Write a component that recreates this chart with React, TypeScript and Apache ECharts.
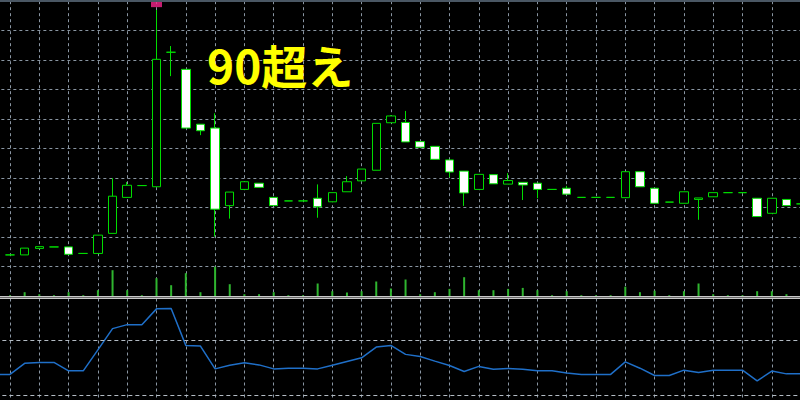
import React, { useEffect, useRef } from "react";
import * as echarts from "echarts";

// one category per bar (index labels; axis labels are hidden in the reference)
const categories = [
  "1", "2", "3", "4", "5", "6", "7", "8", "9", "10",
  "11", "12", "13", "14", "15", "16", "17", "18", "19", "20",
  "21", "22", "23", "24", "25", "26", "27", "28", "29", "30",
  "31", "32", "33", "34", "35", "36", "37", "38", "39", "40",
  "41", "42", "43", "44", "45", "46", "47", "48", "49", "50",
  "51", "52", "53", "54", "55", "56",
];

// [open, close, low, high]
const candles = [
  [413.5, 415.3, 413.5, 415.3],
  [414.0, 414.0, 414.0, 414.0],
  [414.0, 416.3, 414.0, 416.3],
  [416.2, 416.8, 416.2, 416.8],
  [416.7, 416.7, 416.7, 416.7],
  [416.7, 414.2, 414.2, 416.7],
  [414.5, 414.5, 414.5, 414.5],
  [414.5, 420.7, 414.5, 420.7],
  [421.3, 433.9, 421.3, 440.0],
  [433.5, 437.6, 433.5, 438.7],
  [437.5, 437.5, 437.5, 437.5],
  [437.1, 480.3, 437.1, 497.0],
  [482.7, 482.7, 474.6, 484.8],
  [476.9, 457.0, 457.0, 476.9],
  [458.3, 456.1, 454.6, 458.3],
  [457.0, 429.5, 420.2, 462.0],
  [430.7, 435.3, 426.3, 435.3],
  [436.2, 438.8, 436.2, 438.8],
  [438.3, 436.9, 436.9, 438.3],
  [433.5, 430.7, 430.7, 433.5],
  [432.3, 432.3, 432.3, 432.3],
  [432.3, 432.3, 432.3, 432.3],
  [433.2, 430.3, 426.6, 437.9],
  [432.0, 435.1, 432.0, 435.1],
  [435.4, 438.8, 435.4, 440.7],
  [439.1, 443.1, 439.1, 443.1],
  [442.7, 458.6, 442.7, 458.6],
  [458.8, 461.1, 458.8, 461.4],
  [458.9, 452.3, 452.3, 462.8],
  [452.4, 450.5, 450.5, 452.4],
  [450.8, 446.4, 446.4, 450.8],
  [446.2, 442.1, 440.3, 446.2],
  [442.4, 435.0, 430.6, 442.4],
  [436.2, 441.3, 436.2, 441.3],
  [441.2, 438.1, 438.1, 441.2],
  [438.0, 439.2, 438.0, 441.7],
  [438.6, 437.7, 432.6, 438.6],
  [438.3, 436.2, 433.2, 438.3],
  [436.2, 436.2, 436.2, 436.2],
  [436.6, 434.6, 434.6, 437.4],
  [433.5, 433.5, 433.5, 433.5],
  [433.5, 433.5, 433.5, 433.5],
  [433.5, 433.5, 433.5, 433.5],
  [433.4, 442.2, 433.4, 442.2],
  [442.2, 437.1, 437.1, 442.2],
  [436.6, 431.5, 431.5, 436.6],
  [431.9, 431.9, 431.9, 431.9],
  [431.5, 435.4, 431.5, 435.4],
  [432.8, 433.3, 425.9, 433.3],
  [433.7, 435.1, 433.7, 435.1],
  [435.1, 435.1, 435.1, 435.1],
  [435.1, 435.1, 435.1, 435.1],
  [433.2, 427.0, 427.0, 433.2],
  [428.1, 433.2, 428.1, 433.2],
  [432.8, 430.7, 430.7, 432.8],
  [431.3, 431.3, 431.3, 431.3],
];

const volumes = [
  0, 1, 4, 2, 1, 4, 1, 6, 26, 6,
  1, 18, 11, 23, 4, 29.5, 12, 2, 2, 4,
  1, 1, 12.7, 5, 3.7, 5, 14.7, 7.7, 16.7, 2,
  4, 7.3, 19, 6, 6, 7.3, 8.3, 6, 1, 5,
  1, 1, 1, 9.5, 4, 5.5, 1, 5, 12.7, 2,
  1, 1, 5, 5, 2, 1,
];

const rsi = [
  45.1, 45.1, 53.1, 53.8, 53.8, 47.7, 47.7, 62.9, 78.2, 81.1,
  81.1, 92.5, 92.8, 66.1, 65.6, 49.1, 51.8, 53.5, 52.0, 49.1,
  49.6, 49.6, 49.1, 51.8, 54.5, 57.1, 64.9, 66.1, 59.6, 58.1,
  54.7, 51.6, 47.2, 50.9, 48.9, 49.4, 48.9, 47.7, 47.7, 46.2,
  45.1, 45.1, 45.1, 54.2, 49.6, 44.3, 44.3, 48.2, 46.5, 48.2,
  48.2, 48.2, 40.4, 47.5, 45.5, 45.5,
];

const spikeMarker = [[11, 499]];
const rsiLevels = [70, 30];
const priceMin = 400;
const priceMax = 500;
const priceStep = 10;
const annotation = "90超え";

export default function App() {
  const ref = useRef<HTMLDivElement>(null);

  useEffect(() => {
    const chart = echarts.init(ref.current!, null, { renderer: "svg" });
    const step = 14.65;
    const left = -4.65;
    const width = step * (categories.length - 1);
    const gridColor = "#8a96a3";
    const green = "#00dd00";

    const mkGrid = (top: number, height: number) => ({
      left,
      width,
      top,
      height,
      containLabel: false,
      outerBoundsMode: "none",
    });

    const mkX = (idx: number, showSplit: boolean) => ({
      type: "category",
      gridIndex: idx,
      data: categories,
      boundaryGap: false,
      axisLine: { show: false },
      axisTick: { show: false },
      axisLabel: { show: false },
      splitLine: {
        show: showSplit,
        interval: (i: number) => i % 2 === 1,
        lineStyle: { color: gridColor, type: [3, 3], width: 1 },
      },
    });

    chart.setOption({
      animation: false,
      backgroundColor: "#000000",
      grid: [mkGrid(1.2, 295), mkGrid(196.2, 100), mkGrid(298.5, 138.3)],
      xAxis: [mkX(0, true), mkX(1, false), mkX(2, true)],
      yAxis: [
        {
          type: "value",
          gridIndex: 0,
          min: priceMin,
          max: priceMax,
          interval: priceStep,
          axisLine: { show: false },
          axisTick: { show: false },
          axisLabel: { show: false },
          splitLine: { show: true, lineStyle: { color: gridColor, type: [3, 3], width: 1 } },
        },
        {
          type: "value",
          gridIndex: 1,
          min: 0,
          max: 100,
          axisLine: { show: false },
          axisTick: { show: false },
          axisLabel: { show: false },
          splitLine: { show: false },
        },
        {
          type: "value",
          gridIndex: 2,
          min: 0,
          max: 100,
          axisLine: { show: false },
          axisTick: { show: false },
          axisLabel: { show: false },
          splitLine: { show: false },
        },
      ],
      series: [
        {
          type: "bar",
          xAxisIndex: 1,
          yAxisIndex: 1,
          data: volumes,
          barWidth: 2,
          itemStyle: { color: "#2fb52f" },
          silent: true,
        },
        {
          type: "candlestick",
          xAxisIndex: 0,
          yAxisIndex: 0,
          data: candles,
          barWidth: 9,
          clip: false,
          itemStyle: {
            color: "#000000",
            color0: "#ffffff",
            borderColor: green,
            borderColor0: green,
            borderColorDoji: green,
            borderWidth: 1,
          },
        },
        {
          type: "scatter",
          xAxisIndex: 0,
          yAxisIndex: 0,
          data: spikeMarker,
          symbol: "rect",
          symbolSize: [11, 6],
          clip: false,
          itemStyle: { color: "#f5248c" },
        },
        {
          type: "line",
          xAxisIndex: 2,
          yAxisIndex: 2,
          data: rsi,
          showSymbol: false,
          clip: false,
          lineStyle: { color: "#1f6fc8", width: 1.5 },
          markLine: {
            silent: true,
            symbol: ["none", "none"],
            label: { show: false },
            lineStyle: { color: "#b4bcc4", type: [4, 3], width: 1 },
            data: rsiLevels.map((v) => ({ yAxis: v })),
          },
        },
      ],
      graphic: [
        { type: "rect", left: 0, top: 0, shape: { width: 800, height: 2 }, style: { fill: "#4a5764" }, z: 100 },
        { type: "rect", left: 0, top: 296, shape: { width: 800, height: 1 }, style: { fill: "#c8c8c8" }, z: 100 },
        { type: "rect", left: 0, top: 297, shape: { width: 800, height: 1 }, style: { fill: "#6a6a6a" }, z: 100 },
        { type: "rect", left: 0, top: 298, shape: { width: 800, height: 1 }, style: { fill: "#c8c8c8" }, z: 100 },
        {
          type: "text",
          x: 207,
          y: 63.7,
          z: 100,
          style: {
            text: annotation,
            fill: "#ffff00",
            font: 'bold 46px "Noto Sans CJK JP"',
            textAlign: "left",
            textVerticalAlign: "middle",
          },
        },
      ],
    });

    return () => chart.dispose();
  }, []);

  return (
    <div
      ref={ref}
      style={{ position: "fixed", left: 0, top: 0, width: 800, height: 400 }}
    />
  );
}
